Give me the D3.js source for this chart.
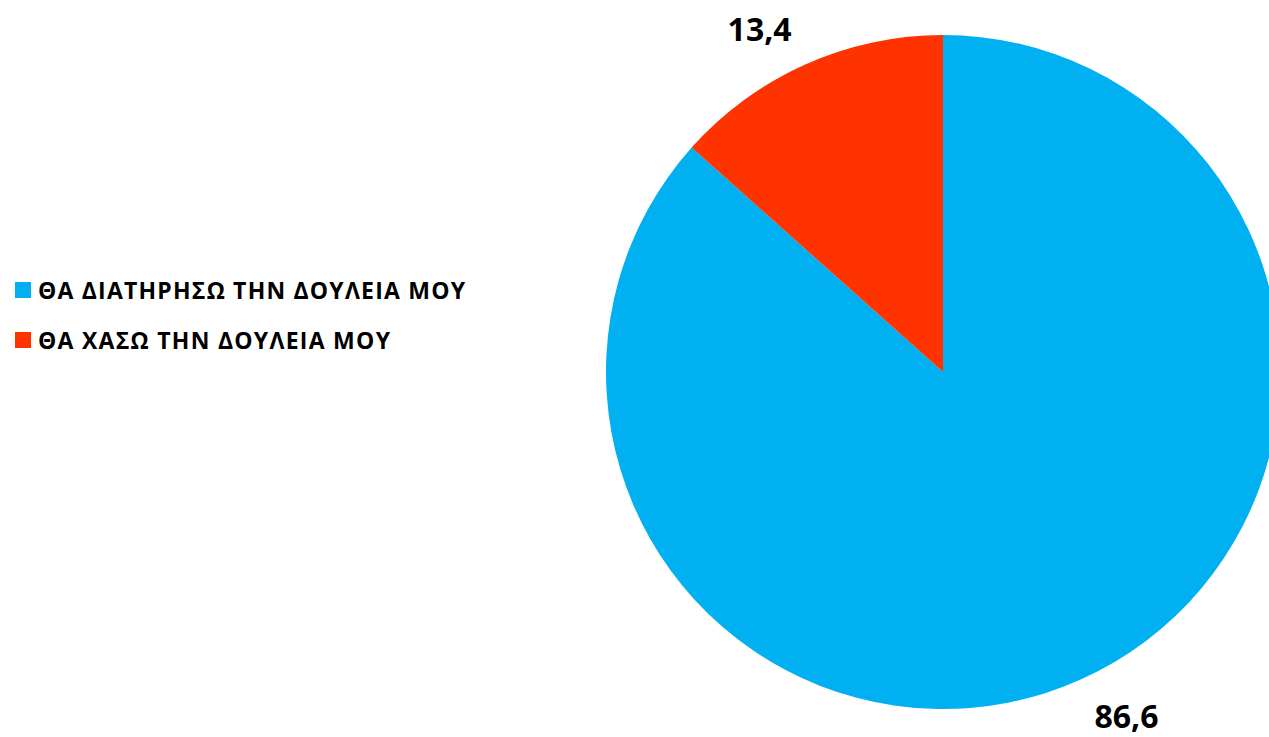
<!DOCTYPE html>
<html>
<head>
<meta charset="utf-8">
<script src="https://cdn.jsdelivr.net/npm/d3@7"></script>
<style>
  body { margin: 0; background: #fff; }
  svg text { font-family: "Open Sans", "Noto Sans", sans-serif; font-weight: bold; }
</style>
</head>
<body>
<div id="chart"></div>
<script>
var svgWidth = 1269;
var svgHeight = 737;

// data
var categories = ["ΘΑ ΔΙΑΤΗΡΗΣΩ ΤΗΝ ΔΟΥΛΕΙΑ ΜΟΥ", "ΘΑ ΧΑΣΩ ΤΗΝ ΔΟΥΛΕΙΑ ΜΟΥ"];
var values = [86.6, 13.4];
var valueLabels = ["86,6", "13,4"];
var colors = ["#00B0F0", "#FF3300"];

var cx = 943, cy = 372, radius = 337;

var svg = d3.select("#chart")
    .append("svg")
    .attr("width", svgWidth)
    .attr("height", svgHeight);

var pieData = d3.pie().sort(null)(values);
var arc = d3.arc().innerRadius(0).outerRadius(radius);

var pieGroup = svg.append("g")
    .attr("transform", `translate(${cx}, ${cy})`);

pieGroup.selectAll("path")
    .data(pieData)
    .enter()
    .append("path")
    .attr("d", arc)
    .attr("fill", (d, i) => colors[i]);

// value labels outside the slices (slightly rotated back from mid-angle)
var labelR = 389;
pieGroup.selectAll("text.val")
    .data(pieData)
    .enter()
    .append("text")
    .attr("class", "val")
    .attr("transform", function(d) {
        var a = (d.startAngle + d.endAngle) / 2 - 0.07;
        return `translate(${labelR * Math.sin(a)}, ${-labelR * Math.cos(a)})`;
    })
    .attr("text-anchor", "middle")
    .attr("dominant-baseline", "central")
    .attr("font-size", "32px")
    .attr("fill", "#000")
    .text((d, i) => valueLabels[i]);

// legend
var legend = svg.append("g")
    .attr("transform", "translate(15, 282)");

var rows = legend.selectAll("g")
    .data(categories)
    .enter()
    .append("g")
    .attr("transform", (d, i) => `translate(0, ${i * 50})`);

rows.append("rect")
    .attr("width", 16)
    .attr("height", 16)
    .attr("fill", (d, i) => colors[i]);

rows.append("text")
    .attr("x", 23)
    .attr("y", 8)
    .attr("dominant-baseline", "central")
    .attr("font-size", "23px")
    .attr("fill", "#000")
    .attr("textLength", (d, i) => i === 0 ? 427 : 352)
    .attr("lengthAdjust", "spacing")
    .text(d => d);
</script>
</body>
</html>
